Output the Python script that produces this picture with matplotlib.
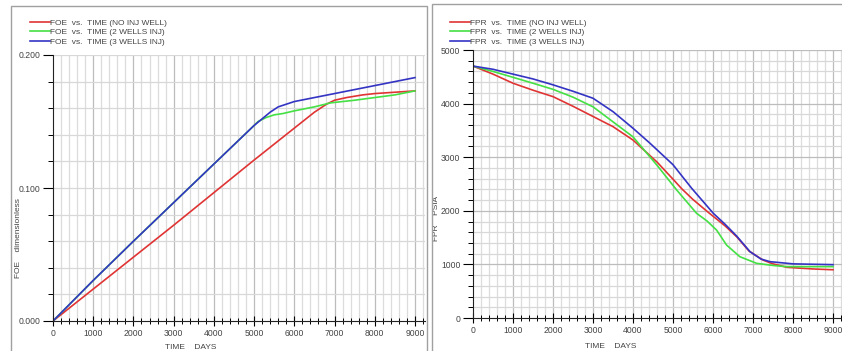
import numpy as np
import matplotlib.pyplot as plt
from matplotlib.patches import Rectangle
from matplotlib.ticker import MultipleLocator

plt.rcParams['font.family'] = ['Liberation Sans', 'DejaVu Sans']

# FOE vs TIME
t_foe_red = [0, 1000, 2000, 3000, 4000, 5000, 6000, 6500, 6800, 7000, 7300, 7700, 8000, 8500, 9000]
foe_red = [0, 0.024, 0.048, 0.072, 0.0965, 0.121, 0.145, 0.157, 0.163, 0.166, 0.168, 0.170, 0.171, 0.172, 0.173]
t_foe_green = [0, 1000, 2000, 3000, 4000, 5000, 5100, 5300, 5500, 5720, 6000, 6500, 6900, 7500, 8000, 8500, 9000]
foe_green = [0, 0.0305, 0.060, 0.089, 0.118, 0.147, 0.150, 0.153, 0.155, 0.156, 0.158, 0.161, 0.164, 0.166, 0.168, 0.170, 0.173]
t_foe_blue = [0, 1000, 2000, 3000, 4000, 5000, 5200, 5400, 5600, 5800, 6000, 6500, 7000, 7500, 8000, 8500, 9000]
foe_blue = [0, 0.0305, 0.060, 0.089, 0.118, 0.147, 0.152, 0.157, 0.161, 0.163, 0.165, 0.168, 0.171, 0.174, 0.177, 0.180, 0.183]

# FPR vs TIME
t_fpr_red = [0, 500, 1000, 1500, 2000, 2500, 3000, 3500, 4000, 4600, 5000, 5220, 5500, 5900, 6300, 6600, 6900, 7250, 7500, 7850, 8500, 9000]
fpr_red = [4700, 4550, 4380, 4250, 4130, 3950, 3760, 3570, 3320, 2910, 2590, 2410, 2210, 1960, 1720, 1510, 1250, 1080, 1010, 945, 915, 900]
t_fpr_green = [0, 500, 1000, 1500, 2000, 2500, 3000, 3500, 4000, 4600, 5090, 5590, 5850, 6090, 6340, 6670, 7090, 7500, 7840, 9000]
fpr_green = [4700, 4600, 4490, 4380, 4266, 4120, 3940, 3660, 3380, 2850, 2390, 1953, 1810, 1640, 1360, 1144, 1020, 980, 958, 958]
t_fpr_blue = [0, 500, 1000, 1500, 2000, 2500, 3000, 3500, 4000, 4425, 5000, 5467, 6008, 6300, 6590, 6925, 7200, 7425, 8000, 9000]
fpr_blue = [4700, 4640, 4550, 4460, 4350, 4230, 4100, 3850, 3540, 3260, 2860, 2420, 1953, 1750, 1530, 1237, 1100, 1051, 1010, 995]

RED, GREEN, BLUE = "#e03434", "#44e044", "#3434c4"
TXT = "#444444"

fig = plt.figure(figsize=(8.42, 3.51), dpi=100)
fig.patches.append(Rectangle((11 / 842, -0.05), 416 / 842, 1.05 - 6 / 351, transform=fig.transFigure,
                             fill=False, edgecolor="#a0a0a0", linewidth=1))
fig.patches.append(Rectangle((432 / 842, -0.05), 420 / 842, 1.05 - 4 / 351, transform=fig.transFigure,
                             fill=False, edgecolor="#a0a0a0", linewidth=1))

ax1 = fig.add_axes([53 / 842, 30 / 351, 372 / 842, 266 / 351])
ax2 = fig.add_axes([473 / 842, 33 / 351, 370 / 842, 268 / 351])


def style(ax, ymax, ymaj, ymin_step, ygrid_major):
    ax.set_xlim(0, 9250)
    ax.set_ylim(0, ymax)
    ax.xaxis.set_major_locator(MultipleLocator(1000))
    ax.xaxis.set_minor_locator(MultipleLocator(200))
    ax.yaxis.set_major_locator(MultipleLocator(ymaj))
    ax.yaxis.set_minor_locator(MultipleLocator(ymin_step))
    for x in np.arange(200, 9250, 200):
        c = "#bcbcbc" if x % 1000 == 0 else "#dcdcdc"
        ax.axvline(x, color=c, linewidth=0.9, zorder=0)
    for y in np.arange(1, round(ymax / ymin_step) + 1) * ymin_step:
        c = "#bcbcbc" if ygrid_major and abs(y / ymaj - round(y / ymaj)) < 1e-6 else "#d8d8d8"
        ax.axhline(y, color=c, linewidth=0.9, zorder=0)
    ax.spines["top"].set_visible(False)
    ax.spines["right"].set_visible(False)
    ax.spines["left"].set_color("#222222")
    ax.spines["bottom"].set_color("#222222")
    ax.tick_params(axis="x", which="major", direction="inout", length=7, width=0.8,
                   labelsize=6.2, labelcolor=TXT, pad=2)
    ax.tick_params(axis="x", which="minor", direction="inout", length=4, width=0.7)
    ax.tick_params(axis="y", which="major", direction="out", length=7, width=0.8,
                   labelsize=6.2, labelcolor=TXT, pad=2)
    ax.tick_params(axis="y", which="minor", direction="out", length=3.5, width=0.7)


style(ax1, 0.2, 0.1, 0.02, False)
ax1.yaxis.set_major_formatter(plt.FormatStrFormatter("%.3f"))
ax1.plot(t_foe_red, foe_red, color=RED, lw=1.2, label="FOE  vs.  TIME (NO INJ WELL)")
ax1.plot(t_foe_green, foe_green, color=GREEN, lw=1.2, label="FOE  vs.  TIME (2 WELLS INJ)")
ax1.plot(t_foe_blue, foe_blue, color=BLUE, lw=1.2, label="FOE  vs.  TIME (3 WELLS INJ)")
ax1.set_xlabel("TIME    DAYS", fontsize=6, color=TXT)
ax1.xaxis.set_label_coords(3430 / 9250, -0.085)
ax1.set_ylabel("FOE    dimensionless", fontsize=6, color=TXT)
ax1.yaxis.set_label_coords(-0.082, 0.31)

style(ax2, 5000, 1000, 200, True)
ax2.plot(t_fpr_red, fpr_red, color=RED, lw=1.2, label="FPR  vs.  TIME (NO INJ WELL)")
ax2.plot(t_fpr_green, fpr_green, color=GREEN, lw=1.2, label="FPR  vs.  TIME (2 WELLS INJ)")
ax2.plot(t_fpr_blue, fpr_blue, color=BLUE, lw=1.2, label="FPR  vs.  TIME (3 WELLS INJ)")
ax2.set_xlabel("TIME    DAYS", fontsize=6, color=TXT)
ax2.xaxis.set_label_coords(3450 / 9250, -0.095)
ax2.set_ylabel("FPR    PSIA", fontsize=6, color=TXT)
ax2.yaxis.set_label_coords(-0.09, 0.37)

for ax, x0 in ((ax1, 30), (ax2, 450)):
    leg = ax.legend(loc="upper left", bbox_to_anchor=(x0 / 842, 1 - 19 / 351),
                    bbox_transform=fig.transFigure, frameon=False, fontsize=6,
                    handlelength=2.4, handletextpad=0.0, labelspacing=0.2,
                    borderpad=0, borderaxespad=0)
    for txt in leg.get_texts():
        txt.set_color(TXT)

fig.savefig("out.png", dpi=100, facecolor="white")
